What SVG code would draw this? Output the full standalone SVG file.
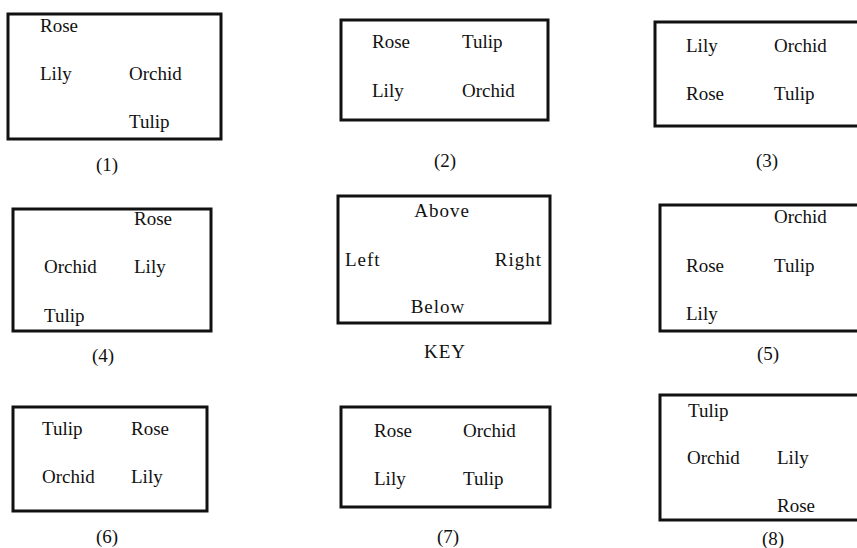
<svg xmlns="http://www.w3.org/2000/svg" width="857" height="548" viewBox="0 0 857 548">
<style>
.box{fill:#fff;stroke:#111;stroke-width:3}
text{font-family:"Liberation Serif","Times New Roman",serif;font-size:19px;fill:#111}
.cap{text-anchor:middle}
.key{letter-spacing:1px}
</style>
<rect width="857" height="548" fill="#fff"/>
<g id="b1">
<rect class="box" x="8" y="14" width="213" height="125"/>
<text x="40" y="32">Rose</text>
<text x="40" y="80">Lily</text>
<text x="129" y="80">Orchid</text>
<text x="129" y="128">Tulip</text>
<text class="cap" x="107" y="171">(1)</text>
</g>
<g id="b2">
<rect class="box" x="341" y="20" width="207" height="100"/>
<text x="372" y="48">Rose</text>
<text x="462" y="48">Tulip</text>
<text x="372" y="97">Lily</text>
<text x="462" y="97">Orchid</text>
<text class="cap" x="445" y="167">(2)</text>
</g>
<g id="b3">
<rect class="box" x="655" y="22" width="220" height="104"/>
<text x="686" y="52">Lily</text>
<text x="774" y="52">Orchid</text>
<text x="686" y="100">Rose</text>
<text x="774" y="100">Tulip</text>
<text class="cap" x="767" y="167">(3)</text>
</g>
<g id="b4">
<rect class="box" x="13" y="209" width="198" height="122"/>
<text x="134" y="225">Rose</text>
<text x="44" y="273">Orchid</text>
<text x="134" y="273">Lily</text>
<text x="44" y="322">Tulip</text>
<text class="cap" x="103" y="362">(4)</text>
</g>
<g id="key">
<rect class="box" x="338" y="196" width="212" height="127"/>
<text class="cap key" x="442" y="217">Above</text>
<text class="key" x="345" y="266">Left</text>
<text class="key" x="542" y="266" text-anchor="end">Right</text>
<text class="cap key" x="438" y="313">Below</text>
<text class="cap key" x="445" y="358">KEY</text>
</g>
<g id="b5">
<rect class="box" x="660" y="205" width="215" height="126"/>
<text x="774" y="223">Orchid</text>
<text x="686" y="272">Rose</text>
<text x="774" y="272">Tulip</text>
<text x="686" y="320">Lily</text>
<text class="cap" x="768" y="360">(5)</text>
</g>
<g id="b6">
<rect class="box" x="13" y="407" width="194" height="104"/>
<text x="42" y="435">Tulip</text>
<text x="131" y="435">Rose</text>
<text x="42" y="483">Orchid</text>
<text x="131" y="483">Lily</text>
<text class="cap" x="107" y="543">(6)</text>
</g>
<g id="b7">
<rect class="box" x="341" y="407" width="209" height="100"/>
<text x="374" y="437">Rose</text>
<text x="463" y="437">Orchid</text>
<text x="374" y="485">Lily</text>
<text x="463" y="485">Tulip</text>
<text class="cap" x="448" y="543">(7)</text>
</g>
<g id="b8">
<rect class="box" x="660" y="395" width="215" height="125"/>
<text x="688" y="417">Tulip</text>
<text x="687" y="464">Orchid</text>
<text x="777" y="464">Lily</text>
<text x="777" y="512">Rose</text>
<text class="cap" x="773" y="545">(8)</text>
</g>
<g id="connectors"></g>
</svg>
